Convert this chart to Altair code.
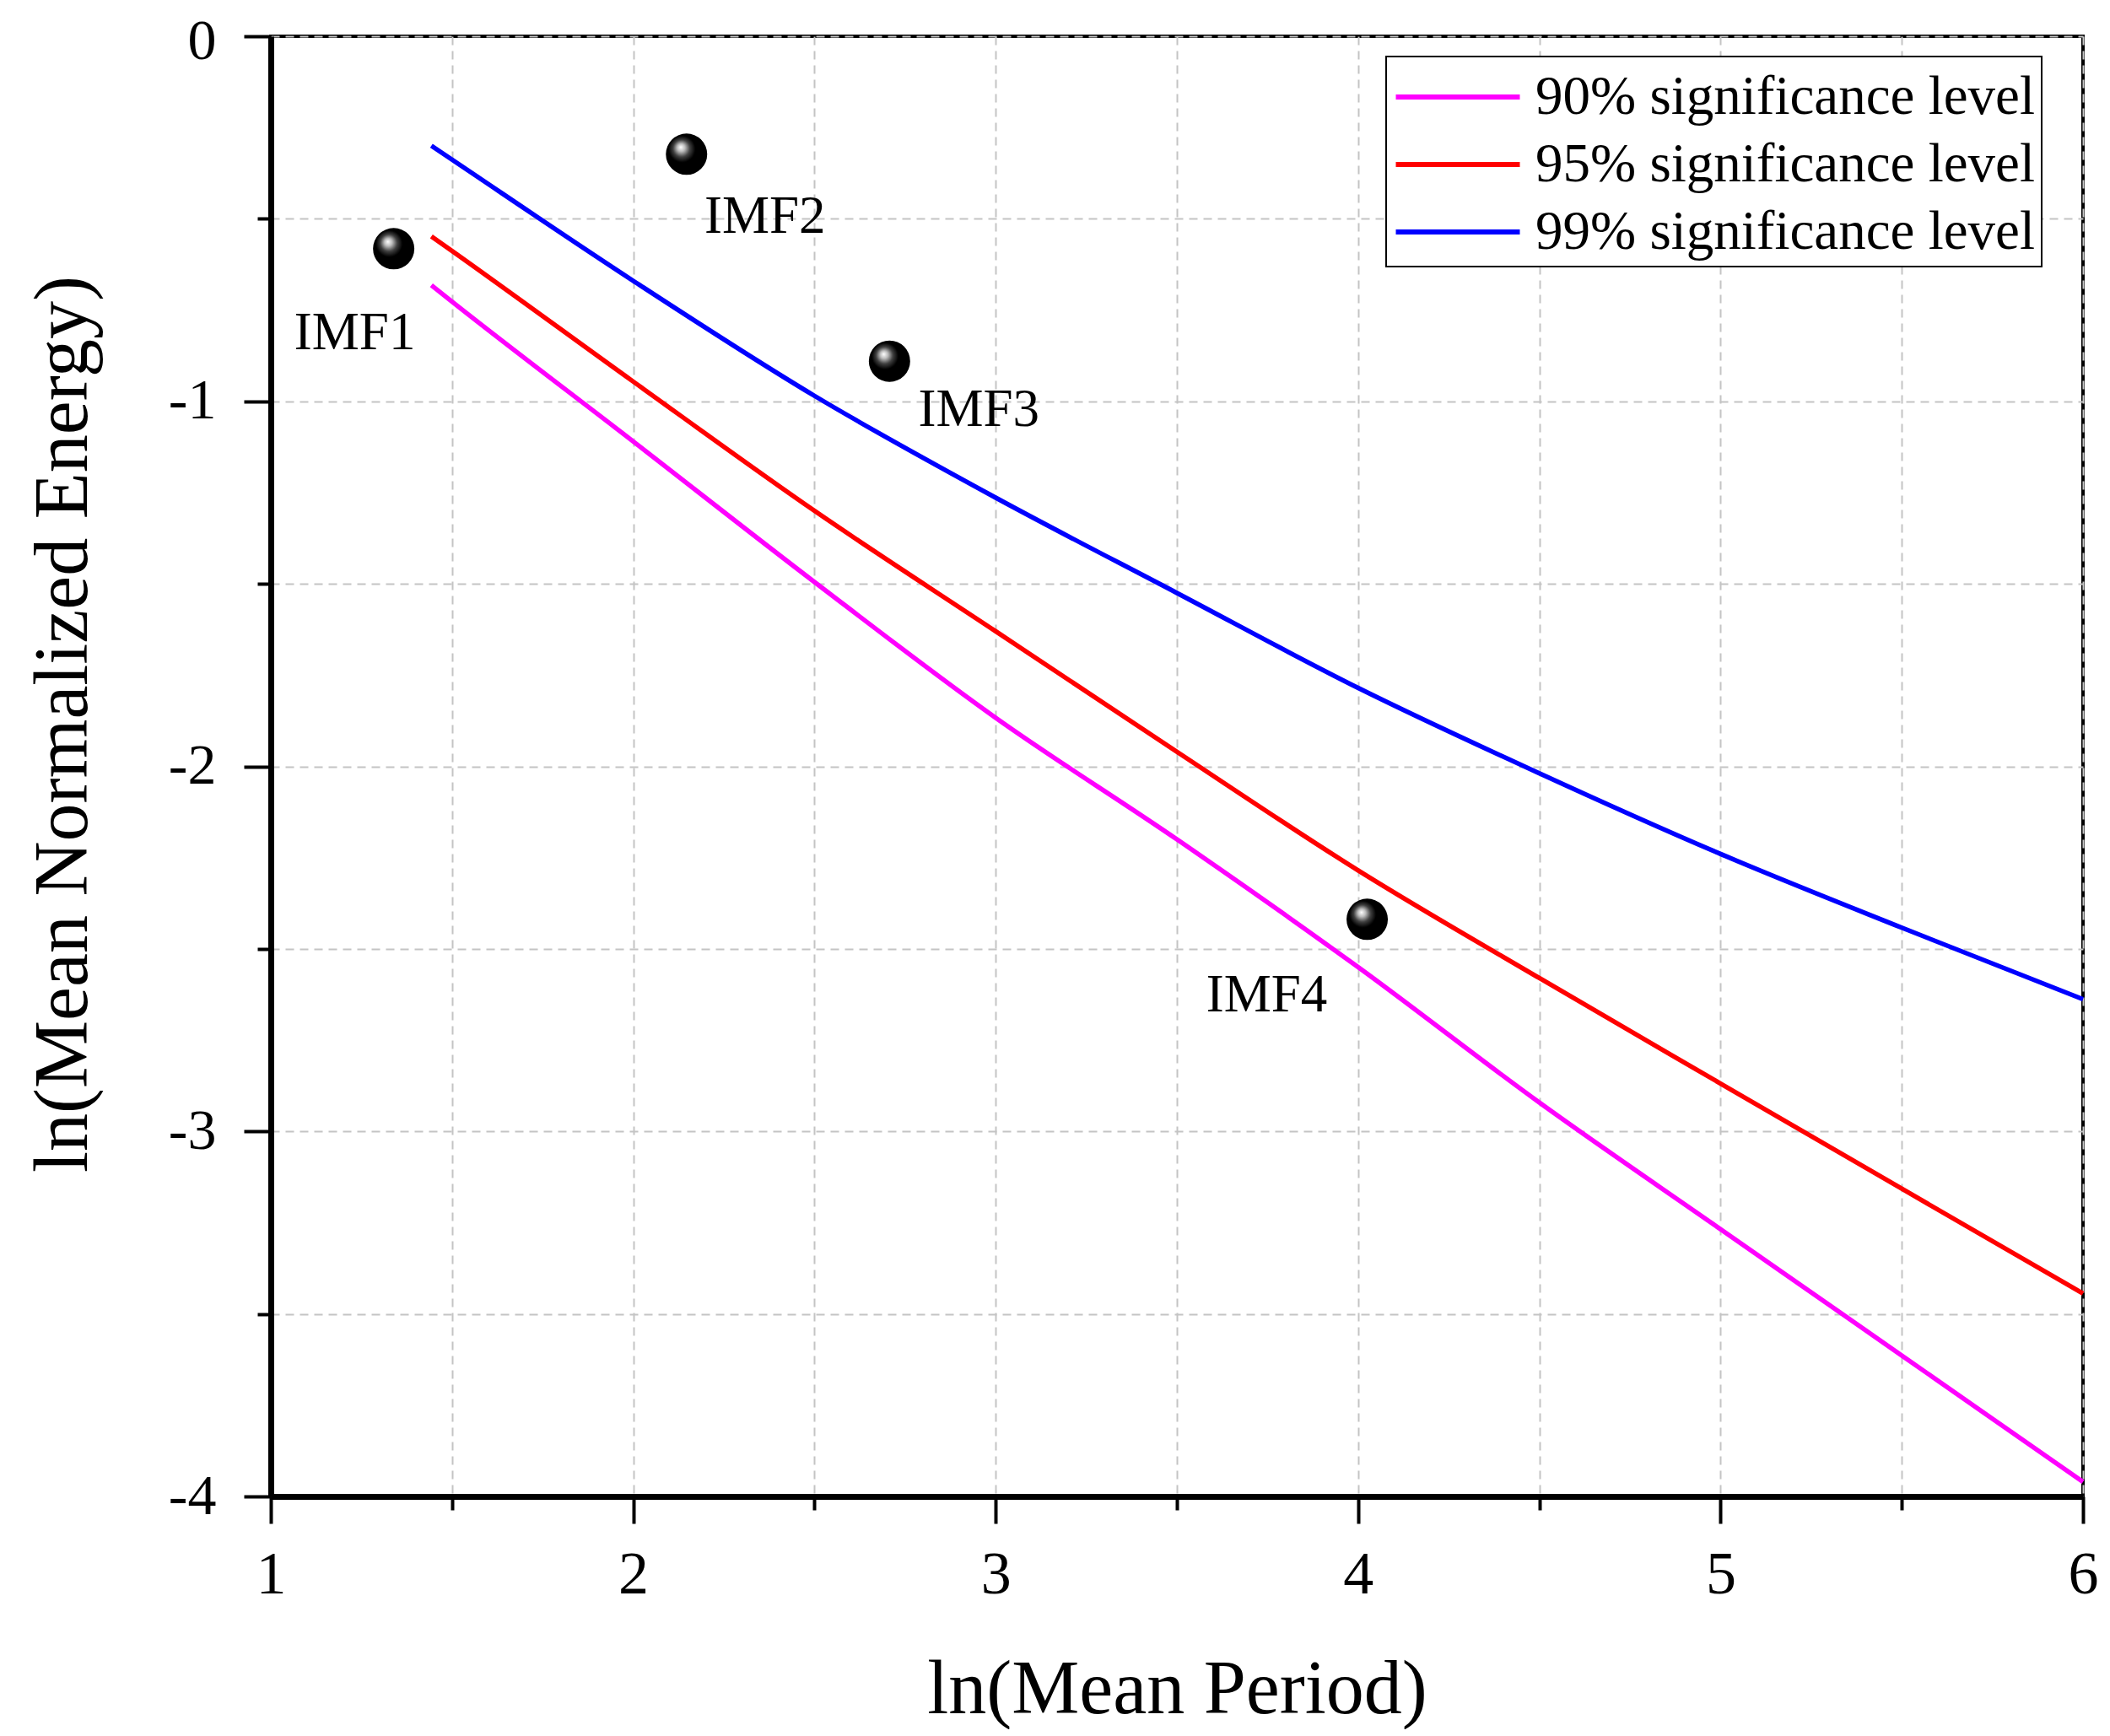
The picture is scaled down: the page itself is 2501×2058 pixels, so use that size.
import altair as alt
import pandas as pd

# ---------------- data ----------------
curve_x = [1.443, 1.5, 2.0, 2.5, 3.0, 3.5, 4.0, 4.5, 5.0, 5.5, 6.0]
sig90 = [-0.682, -0.727, -1.11, -1.495, -1.867, -2.20, -2.55, -2.921, -3.268, -3.614, -3.96]
sig95 = [-0.548, -0.588, -0.946, -1.30, -1.63, -1.96, -2.285, -2.58, -2.869, -3.157, -3.444]
sig99 = [-0.300, -0.338, -0.67, -0.985, -1.264, -1.525, -1.785, -2.019, -2.24, -2.442, -2.638]

series_names = ["90% significance level", "95% significance level", "99% significance level"]
series_colors = ["#FF00FF", "#FF0000", "#0000FF"]

imf_names = ["IMF1", "IMF2", "IMF3", "IMF4"]
imf_x = [1.339, 2.147, 2.707, 4.025]
imf_y = [-0.582, -0.323, -0.890, -2.419]

x_ticks = [1, 1.5, 2, 2.5, 3, 3.5, 4, 4.5, 5, 5.5, 6]
y_ticks = [0, -0.5, -1, -1.5, -2, -2.5, -3, -3.5, -4]

# ---------------- tables ----------------
rows = []
for name, ys in zip(series_names, [sig90, sig95, sig99]):
    for xv, yv in zip(curve_x, ys):
        rows.append({"series": name, "x": xv, "y": yv})
curves = pd.DataFrame(rows)
pts = pd.DataFrame({"name": imf_names, "x": imf_x, "y": imf_y})

# ---------------- style ----------------
FONT = "Liberation Serif"
W, H = 2148, 1731
major = "abs(datum.value - round(datum.value)) < 0.000001"

x_scale = alt.Scale(domain=[1, 6], nice=False, zero=False)
y_scale = alt.Scale(domain=[-4, 0], nice=False, zero=False)

common_axis = dict(
    grid=True, gridColor="#c4c4c4", gridDash=[10, 7], gridWidth=2,
    domainColor="black", domainWidth=7,
    tickColor="black", tickWidth=4,
    tickSize={"condition": {"test": major, "value": 32}, "value": 16},
    labelExpr=f"{major} ? '' + datum.value : ''",
    labelFont=FONT, labelColor="black",
    labelOverlap=False, labelBound=False, labelFlush=False,
    titleFont=FONT, titleFontSize=90, titleFontWeight="normal", titleColor="black",
    titleBaseline="alphabetic",
)

x_axis = alt.Axis(values=x_ticks, title="ln(Mean Period)", labelBaseline="alphabetic",
                  labelFontSize=72, labelPadding=82, titleX=W / 2, titleY=256,
                  titleAnchor="middle", **common_axis)
y_axis = alt.Axis(values=y_ticks, title="ln(Mean Normalized Energy)", labelFontSize=68,
                  labelPadding=33, titleX=-219, titleY=815, titleAngle=270,
                  titleAnchor="middle",
                  labelOffset={"condition": {"test": "datum.value === 0", "value": 6}, "value": 0},
                  **common_axis)

legend = alt.Legend(
    title=None, orient="none", legendX=1322, legendY=24,
    symbolType="M-2,0H2", symbolSize=5400, symbolStrokeWidth=6, symbolOffset=37,
    labelFont=FONT, labelFontSize=65, labelColor="black", labelOffset=52, labelLimit=0,
    padding=8, rowPadding=7, strokeColor="black", fillColor="white",
)

lines = alt.Chart(curves).mark_line(strokeWidth=5.5, interpolate="monotone").encode(
    x=alt.X("x:Q", scale=x_scale, axis=x_axis),
    y=alt.Y("y:Q", scale=y_scale, axis=y_axis),
    color=alt.Color("series:N", scale=alt.Scale(domain=series_names, range=series_colors),
                    legend=legend, sort=series_names),
)

sphere = alt.RadialGradient(
    gradient="radial",
    stops=[alt.GradientStop(color="#ffffff", offset=0),
           alt.GradientStop(color="#bdbdbd", offset=0.15),
           alt.GradientStop(color="#404040", offset=0.33),
           alt.GradientStop(color="#000000", offset=0.52),
           alt.GradientStop(color="#000000", offset=1)],
    x1=0.36, y1=0.33, r1=0, x2=0.42, y2=0.42, r2=0.62,
)

points = alt.Chart(pts).mark_point(shape="circle", filled=True, size=2400, opacity=1,
                                   fill=sphere, strokeWidth=0).encode(
    x=alt.X("x:Q", scale=x_scale),
    y=alt.Y("y:Q", scale=y_scale),
)

label_offsets = {"IMF1": (-46, 100), "IMF2": (93, 74), "IMF3": (106, 58), "IMF4": (-119, 90)}
labels = []
for n in imf_names:
    dx, dy = label_offsets[n]
    labels.append(
        alt.Chart(pts).transform_filter(alt.datum.name == n).mark_text(
            font=FONT, fontSize=63, color="black", dx=dx, dy=dy,
            align="center", baseline="middle").encode(
            x=alt.X("x:Q", scale=x_scale),
            y=alt.Y("y:Q", scale=y_scale),
            text="name:N",
        )
    )

chart = alt.layer(lines, points, *labels).properties(
    width=W, height=H,
    autosize=alt.AutoSizeParams(type="none"),
    padding={"left": 313, "top": 35, "right": 24, "bottom": 276},
    background="white",
).configure_view(stroke="black", strokeWidth=4).configure_legend(strokeWidth=2)

chart.save("out.html", embed_options={"renderer": "svg", "actions": False})
